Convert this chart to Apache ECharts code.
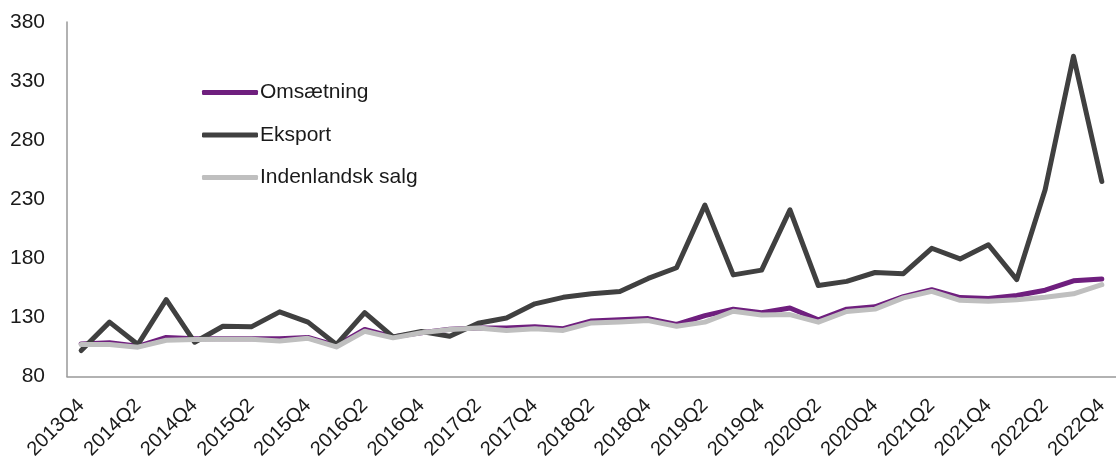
<!DOCTYPE html>
<html>
<head>
<meta charset="utf-8">
<script src="https://cdn.jsdelivr.net/npm/echarts@6/dist/echarts.min.js"></script>
<style>
html,body{margin:0;padding:0;background:#fff;}
#chart{width:1116px;height:462px;}
</style>
</head>
<body>
<div id="chart"></div>
<script>
var categories = ['2013Q4','2014Q1','2014Q2','2014Q3','2014Q4','2015Q1','2015Q2','2015Q3','2015Q4','2016Q1','2016Q2','2016Q3','2016Q4','2017Q1','2017Q2','2017Q3','2017Q4','2018Q1','2018Q2','2018Q3','2018Q4','2019Q1','2019Q2','2019Q3','2019Q4','2020Q1','2020Q2','2020Q3','2020Q4','2021Q1','2021Q2','2021Q3','2021Q4','2022Q1','2022Q2','2022Q3','2022Q4'];
var omsaetning = [107.5,108.5,105.5,113,112,112,112,112,113,106,119.8,113.5,117,120,121,121,122,120.5,127,128,129,124,131.5,137,134,138,128,137,139,147.6,153.5,146.8,146,148.5,153,161,162.5];
var eksport = [102,126,107,145,109,122.5,122,134.7,126,107,134,113.5,118,114,125,129.5,141.5,147,150,152,163,172,225,166,170,221,157,160.5,168,167,188.5,179.5,191.5,162,238,351,245];
var indenlandsk = [107,107,104.8,110.7,111.3,111.5,111.5,110,112.3,105,118.3,112.7,117,119.7,121,119,120.3,119,125.3,126.2,127.3,122.5,126,135.2,132,132.4,126,135,137,146.5,152,144.5,143.6,145,147,150,157.7];
var seriesNames = ['Omsætning','Eksport','Indenlandsk salg'];
var yMin = 80, yMax = 380, yStep = 50;

var colors = ['#6f1f7e','#404040','#bfbfbf'];
var font = 'Liberation Sans';
var chart = echarts.init(document.getElementById('chart'));
function mk(name, data, color) {
  return {
    name: name, type: 'line', data: data,
    symbol: 'none', showSymbol: false,
    lineStyle: {width: 5, color: color, cap: 'round', join: 'round'},
    itemStyle: {color: color},
    animation: false
  };
}
chart.setOption({
  animation: false,
  color: colors,
  grid: {left: 67, right: -11, top: 22, bottom: 85, containLabel: false},
  legend: {
    orient: 'vertical', left: 197, top: 77,
    itemWidth: 56, itemHeight: 5, itemGap: 21.5,
    icon: 'roundRect',
    textStyle: {fontFamily: font, fontSize: 21, color: '#1a1a1a', lineHeight: 21, padding: [0,0,0,-3]},
    data: seriesNames
  },
  xAxis: {
    type: 'category', data: categories, boundaryGap: true,
    axisLine: {lineStyle: {color: '#999', width: 1.5}},
    axisTick: {show: false},
    axisLabel: {interval: 1, rotate: 45, margin: 26, fontFamily: font, fontSize: 20, color: '#1a1a1a'}
  },
  yAxis: {
    type: 'value', min: yMin, max: yMax, interval: yStep,
    axisLine: {show: true, lineStyle: {color: '#999', width: 1.5}},
    axisTick: {show: false},
    splitLine: {show: false},
    axisLabel: {margin: 22, fontFamily: font, fontSize: 21, color: '#1a1a1a'}
  },
  series: [
    mk(seriesNames[0], omsaetning, colors[0]),
    mk(seriesNames[1], eksport, colors[1]),
    mk(seriesNames[2], indenlandsk, colors[2])
  ]
});
</script>
</body>
</html>
